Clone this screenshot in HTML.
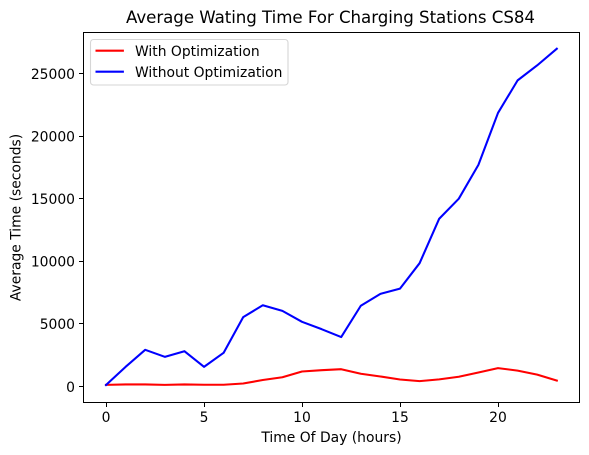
<!DOCTYPE html>
<html>
<head>
<meta charset="utf-8">
<style>
html,body{margin:0;padding:0;background:#fff;}
svg{display:block;font-family:"DejaVu Sans",sans-serif;fill:#000;}
</style>
</head>
<body>
<svg id="chart" width="589" height="455" viewBox="0 0 589 455" xmlns="http://www.w3.org/2000/svg">
<rect x="0" y="0" width="589" height="455" fill="#fff"/>
<text x="126" y="23" font-size="16.67" textLength="409" lengthAdjust="spacing">Average Wating Time For Charging Stations CS84</text>
<text x="331.5" y="442" font-size="13.89" text-anchor="middle">Time Of Day (hours)</text>
<text x="0" y="0" font-size="13.89" text-anchor="middle" transform="translate(20.5 217.5) rotate(-90)">Average Time (seconds)</text>
<g id="ticks"></g>
<g id="series"></g>
<rect x="83.5" y="32.5" width="496" height="370" fill="none" stroke="#000" stroke-width="1.05" shape-rendering="crispEdges"/>
<g>
<rect x="90.5" y="39.5" width="197.5" height="45.5" rx="3" fill="#fff" fill-opacity="0.8" stroke="#d6d6d6" stroke-width="1.11"/>
<line x1="95.5" y1="50.7" x2="123.9" y2="50.7" stroke="#f00" stroke-width="2.08"/>
<text x="135" y="56" font-size="13.89">With Optimization</text>
<line x1="95.5" y1="71.7" x2="123.9" y2="71.7" stroke="#00f" stroke-width="2.08"/>
<text x="135" y="77" font-size="13.89">Without Optimization</text>
</g>
</svg>
<script>
const hours = [0,1,2,3,4,5,6,7,8,9,10,11,12,13,14,15,16,17,18,19,20,21,22,23];
const withOptimization = [130,165,165,130,165,140,140,240,520,740,1200,1300,1380,1020,800,560,430,570,780,1120,1470,1270,950,470];
const withoutOptimization = [120,1570,2930,2370,2820,1570,2690,5540,6490,6040,5165,4580,3950,6450,7400,7820,9850,13400,15000,17700,21850,24450,25650,26980];
const xTickLabels = [0,5,10,15,20];
const yTickLabels = [0,5000,10000,15000,20000,25000];

const NS = 'http://www.w3.org/2000/svg';
function xScale(v){ return 106 + v * 19.6; }
function yScale(v){ return 386.5 - v * 0.01252; }
function snap(p){ return Math.floor(p) + 0.5; }
function make(tag, attrs, parent){
  const el = document.createElementNS(NS, tag);
  for (const k in attrs) el.setAttribute(k, attrs[k]);
  parent.appendChild(el);
  return el;
}
const ticks = document.getElementById('ticks');
const series = document.getElementById('series');

xTickLabels.forEach(function(t){
  const x = xScale(t);
  const tick = make('line', {x1:snap(x), y1:402, x2:snap(x), y2:407, stroke:'#000', 'stroke-width':1.05, 'shape-rendering':'crispEdges'}, ticks);
  
  
  const label = make('text', {x:x, y:422, 'font-size':13.89, 'text-anchor':'middle'}, ticks);
  
  
  label.textContent = t;
});
yTickLabels.forEach(function(t){
  const y = yScale(t);
  const tick = make('line', {x1:79, y1:snap(y), x2:84, y2:snap(y), stroke:'#000', 'stroke-width':1.05, 'shape-rendering':'crispEdges'}, ticks);
  
  
  const label = make('text', {x:75, y:y + 5.3, 'font-size':13.89, 'text-anchor':'end'}, ticks);
  
  
  label.textContent = t;
});
function pointsFor(values){
  return values.map(function(v, i){ return xScale(hours[i]) + ',' + yScale(v); }).join(' ');
}
const redLine = make('polyline', {points:pointsFor(withOptimization), fill:'none', stroke:'#f00', 'stroke-width':2.08, 'stroke-linejoin':'round', 'stroke-linecap':'square'}, series);


const blueLine = make('polyline', {points:pointsFor(withoutOptimization), fill:'none', stroke:'#00f', 'stroke-width':2.08, 'stroke-linejoin':'round', 'stroke-linecap':'square'}, series);


</script>
</body>
</html>
